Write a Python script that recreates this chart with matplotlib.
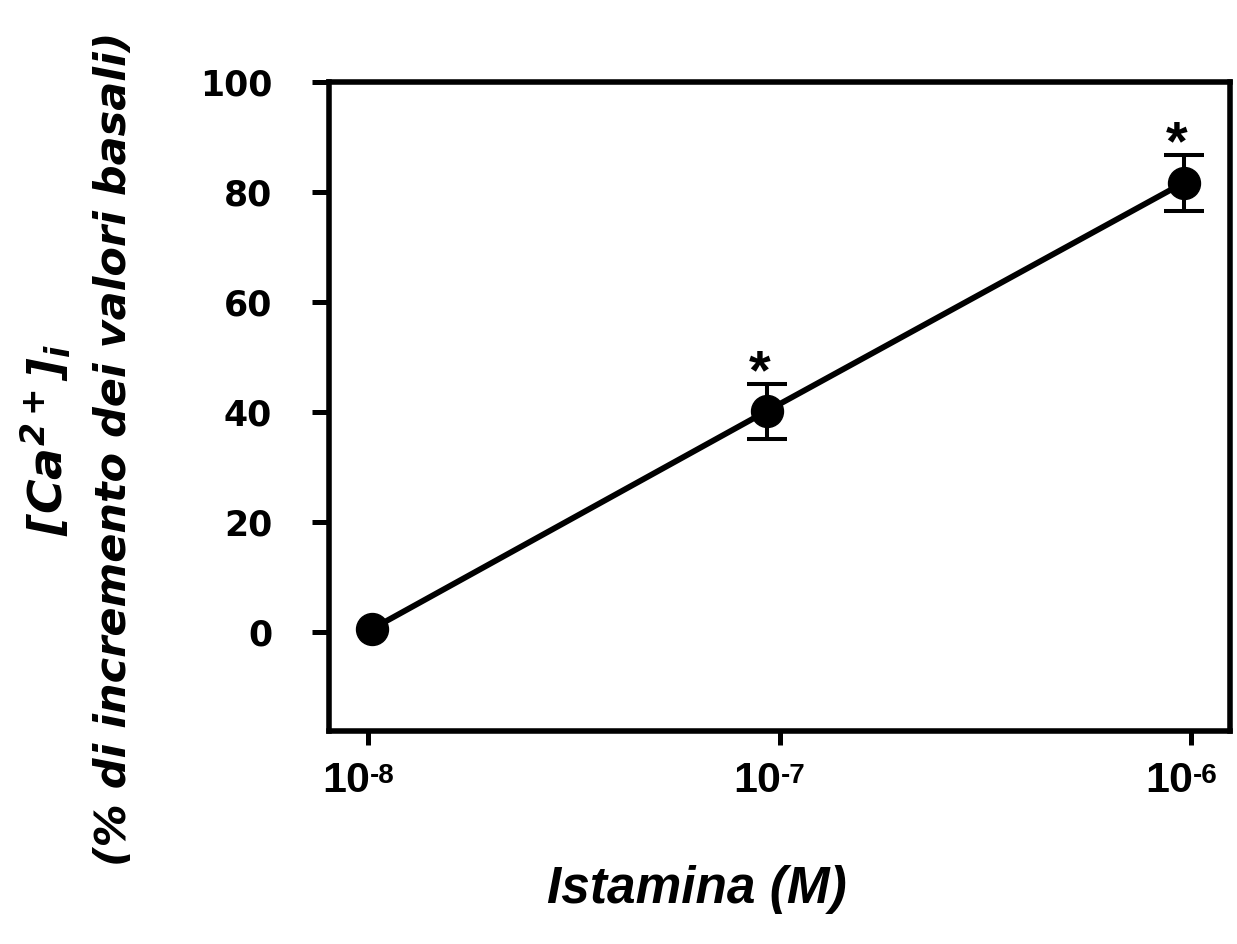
import matplotlib
matplotlib.use("Agg")
import matplotlib.pyplot as plt
from matplotlib.ticker import NullLocator, FixedLocator, FixedFormatter
import numpy as np

# ---- data ----
conc = [1.02e-8, 9.3e-8, 9.6e-7]          # Istamina (M)
response = [0.5, 40.1, 81.6]               # % increment over basal
sem = [0.0, 5.0, 5.05]
significant = [False, True, True]
xtick_vals = [1e-8, 1e-7, 1e-6]
xtick_base = ["10", "10", "10"]
xtick_exp = ["-8", "-7", "-6"]
ytick_vals = [0, 20, 40, 60, 80, 100]
ytick_labels = ["0", "20", "40", "60", "80", "100"]

plt.rcParams["mathtext.fontset"] = "custom"
plt.rcParams["mathtext.rm"] = "DejaVu Sans:italic:bold"
plt.rcParams["mathtext.bf"] = "DejaVu Sans:italic:bold"
plt.rcParams["mathtext.it"] = "DejaVu Sans:italic:bold"

W, H = 1237, 944
fig = plt.figure(figsize=(W / 100, H / 100), dpi=100)
L, R, T, B = 329, 1230, 81.5, 731
ax = fig.add_axes([L / W, 1 - B / H, (R - L) / W, (B - T) / H])

ax.set_xscale("log")
ax.set_xlim(10 ** -8.095, 10 ** -5.905)
ax.set_ylim(-18, 100)

# connecting line
ax.plot(conc, response, color="black", lw=4.2, zorder=2, solid_capstyle="butt")
# error bars (only where present)
ex = [c for c, s in zip(conc, sem) if s > 0]
ey = [r for r, s in zip(response, sem) if s > 0]
ee = [s for s in sem if s > 0]
ax.errorbar(ex, ey, yerr=ee, fmt="none", ecolor="black", elinewidth=2.9,
            capsize=14.4, capthick=2.9, zorder=3)
# markers
ax.plot(conc, response, "o", color="black", markersize=23, zorder=4)

# significance stars
for c, r, s, sig in zip(conc, response, sem, significant):
    if sig:
        ax.annotate("*", xy=(c, r + s), xytext=(-5, -3), textcoords="offset points",
                    ha="center", va="baseline", fontsize=40, fontweight="bold",
                    family="Liberation Sans")

# spines and ticks
for sp in ax.spines.values():
    sp.set_linewidth(4.0)
ax.xaxis.set_minor_locator(NullLocator())
ax.yaxis.set_minor_locator(NullLocator())
ax.xaxis.set_major_locator(FixedLocator(xtick_vals))
ax.yaxis.set_major_locator(FixedLocator(ytick_vals))
ax.yaxis.set_major_formatter(FixedFormatter(ytick_labels))
ax.tick_params(axis="x", which="major", direction="out", length=10, width=3.6,
               labelbottom=False, top=False)
ax.tick_params(axis="y", which="major", direction="out", length=12, width=3.6,
               pad=29, right=False)
for lab in ax.get_yticklabels():
    lab.set_fontfamily("DejaVu Sans")
    lab.set_fontweight("bold")
    lab.set_fontsize(25)

# x tick labels: base and raised exponent
xfam = ["Liberation Sans"]
xt = ax.get_xaxis_transform()
for v, b, e in zip(xtick_vals, xtick_base, xtick_exp):
    ax.annotate(b, xy=(v, 0), xycoords=xt, xytext=(1.5, -44), textcoords="offset points",
                ha="right", va="baseline", fontsize=31, fontweight="bold", family=xfam,
                annotation_clip=False)
    ax.annotate(e, xy=(v, 0), xycoords=xt, xytext=(1.2, -37.5), textcoords="offset points",
                ha="left", va="baseline", fontsize=20, fontweight="bold", family=xfam,
                annotation_clip=False)

# axis labels
fig.text(697 / W, 1 - 890 / H, "Istamina (M)", ha="center", va="center",
         fontsize=37, fontweight="bold", fontstyle="italic", family="Liberation Sans")
fig.text(46 / W, 1 - 440 / H, r"$[Ca^{2+}]_i$", ha="center", va="center",
         rotation=90, fontsize=34)
fig.text(114 / W, 1 - 449 / H, "(% di incremento dei valori basali)", ha="center",
         va="center", rotation=90, fontsize=31, fontweight="bold", fontstyle="italic",
         family="DejaVu Sans")

fig.savefig("out.png", dpi=100)
